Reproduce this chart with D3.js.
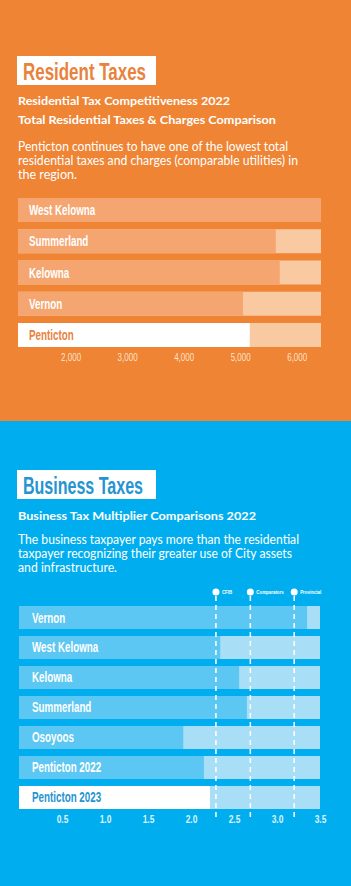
<!DOCTYPE html>
<html>
<head>
<meta charset="utf-8">
<script src="https://cdn.jsdelivr.net/npm/d3@7"></script>
<style>
  body { margin: 0; }
  svg { display: block; }
</style>
</head>
<body>
<svg id="chart" width="351" height="886"></svg>
<script>
// ---- data ----
const resCities = ["West Kelowna", "Summerland", "Kelowna", "Vernon", "Penticton"];
const resTotals = [6430, 5630, 5700, 5050, 5170];
const resTicks = [2000, 3000, 4000, 5000, 6000];

const bizCities = ["Vernon", "West Kelowna", "Kelowna", "Summerland", "Osoyoos", "Penticton 2022", "Penticton 2023"];
const bizMultipliers = [3.35, 2.34, 2.56, 2.65, 1.91, 2.15, 2.22];
const bizTicks = [0.5, 1.0, 1.5, 2.0, 2.5, 3.0, 3.5];

const refNames = ["CFIB", "Comparators", "Provincial"];
const refValues = [2.29, 2.69, 3.2];

// colours
const orange = "#ee8434", orangeBar = "#f5a570", orangeLight = "#f9c9a2", orangeText = "#e8823c";
const blue = "#00aeef", blueBar = "#5cc7f2", blueLight = "#a8dff7", blueText = "#2594d2";

const svg = d3.select("#chart");
const sans = "Lato, 'Open Sans', sans-serif";
const narrow = "'Liberation Sans', Arial, sans-serif";

// squeeze text horizontally (condensed look)
function squeeze(sel, k) {
  sel.each(function () {
    const w = this.getComputedTextLength();
    d3.select(this).attr("textLength", w * k).attr("lengthAdjust", "spacingAndGlyphs");
  });
}
function fitWidth(sel, w) {
  sel.attr("textLength", w).attr("lengthAdjust", "spacingAndGlyphs");
}

// backgrounds
svg.append("rect").attr("x", 0).attr("y", 0).attr("width", 351).attr("height", 421).attr("fill", orange);
svg.append("rect").attr("x", 0).attr("y", 421).attr("width", 351).attr("height", 465).attr("fill", blue);

// headers
function header(y0, title, titleW, color, subs, paras) {
  svg.append("rect").attr("x", 17).attr("y", y0).attr("width", 139).attr("height", 29).attr("fill", "#fff");
  svg.append("text").attr("x", 23).attr("y", y0 + 24).text(title)
    .attr("font-family", narrow).attr("font-weight", "bold").attr("font-size", 24)
    .attr("fill", color).call(fitWidth, titleW);
  subs.forEach(function (s) {
    svg.append("text").attr("x", 18).attr("y", s.y).text(s.t)
      .attr("font-family", sans).attr("font-weight", "bold").attr("font-size", 11.5)
      .attr("fill", "#fff").call(fitWidth, s.w);
  });
  paras.forEach(function (s) {
    svg.append("text").attr("x", 18).attr("y", s.y).text(s.t)
      .attr("font-family", sans).attr("font-size", 12.5)
      .attr("fill", "#fff").call(fitWidth, s.w);
  });
}

header(56, "Resident Taxes", 123, orangeText,
  [{ t: "Residential Tax Competitiveness 2022", y: 105, w: 212 },
   { t: "Total Residential Taxes & Charges Comparison", y: 124, w: 258 }],
  [{ t: "Penticton continues to have one of the lowest total", y: 151, w: 270 },
   { t: "residential taxes and charges (comparable utilities) in", y: 165, w: 280 },
   { t: "the region.", y: 179, w: 59 }]);

header(470, "Business Taxes", 120, blueText,
  [{ t: "Business Tax Multiplier Comparisons 2022", y: 520, w: 238 }],
  [{ t: "The business taxpayer pays more than the residential", y: 544, w: 281 },
   { t: "taxpayer recognizing their greater use of City assets", y: 558, w: 274 },
   { t: "and infrastructure.", y: 572, w: 99 }]);

// ---- Resident chart ----
const xr = d3.scaleLinear().domain([1070, d3.max(resTotals)]).range([18, 321]);
const yr = d3.scaleBand().domain(resCities).range([198, 347]).paddingInner(0.232);

const rg = svg.append("g");
rg.selectAll(".bg").data(resCities).join("rect")
  .attr("x", xr.range()[0]).attr("y", d => yr(d))
  .attr("width", xr.range()[1] - xr.range()[0]).attr("height", yr.bandwidth())
  .attr("fill", orangeLight);
rg.selectAll(".val").data(resCities).join("rect")
  .attr("x", xr.range()[0]).attr("y", d => yr(d))
  .attr("width", (d, i) => xr(resTotals[i]) - xr.range()[0]).attr("height", yr.bandwidth())
  .attr("fill", (d, i) => i === resCities.length - 1 ? "#fff" : orangeBar);
rg.selectAll(".lbl").data(resCities).join("text")
  .attr("x", 29).attr("y", d => yr(d) + 17).text(d => d)
  .attr("font-family", narrow).attr("font-weight", "bold").attr("font-size", 14)
  .attr("fill", (d, i) => i === resCities.length - 1 ? orangeText : "#fff")
  .call(squeeze, 0.7);

const rAxis = svg.append("g").attr("transform", "translate(0,351)")
  .call(d3.axisBottom(xr).tickValues(resTicks).tickFormat(d3.format(",")).tickSize(0));
rAxis.select(".domain").remove();
rAxis.selectAll("text").attr("font-family", narrow).attr("font-size", 10)
  .attr("fill", "#fde3cc").call(squeeze, 0.8);

// ---- Business chart ----
const xb = d3.scaleLinear().domain([0, 3.5]).range([19, 320]);
const yb = d3.scaleBand().domain(bizCities).range([606, 809]).paddingInner(0.233);

const bg = svg.append("g");
bg.selectAll(".bg").data(bizCities).join("rect")
  .attr("x", xb(0)).attr("y", d => yb(d))
  .attr("width", xb(3.5) - xb(0)).attr("height", yb.bandwidth())
  .attr("fill", blueLight);
bg.selectAll(".val").data(bizCities).join("rect")
  .attr("x", xb(0)).attr("y", d => yb(d))
  .attr("width", (d, i) => xb(bizMultipliers[i]) - xb(0)).attr("height", yb.bandwidth())
  .attr("fill", (d, i) => i === bizCities.length - 1 ? "#fff" : blueBar);
bg.selectAll(".lbl").data(bizCities).join("text")
  .attr("x", 32).attr("y", d => yb(d) + 16.5).text(d => d)
  .attr("font-family", narrow).attr("font-weight", "bold").attr("font-size", 14)
  .attr("fill", (d, i) => i === bizCities.length - 1 ? blueText : "#fff")
  .call(squeeze, 0.7);

// reference lines
const ref = svg.append("g");
ref.selectAll("line").data(refValues).join("line")
  .attr("x1", d => xb(d)).attr("x2", d => xb(d))
  .attr("y1", 596).attr("y2", 818)
  .attr("stroke", "#fff").attr("stroke-width", 1.5).attr("stroke-dasharray", "5,4");
ref.selectAll("circle").data(refValues).join("circle")
  .attr("cx", d => xb(d)).attr("cy", 592).attr("r", 3.5).attr("fill", "#fff");
ref.selectAll("text").data(refNames).join("text")
  .attr("x", (d, i) => xb(refValues[i]) + 6).attr("y", 594).text(d => d)
  .attr("font-family", narrow).attr("font-weight", "bold").attr("font-size", 5.5)
  .attr("fill", "#fff").call(squeeze, 0.8);

const bAxis = svg.append("g").attr("transform", "translate(0,813)")
  .call(d3.axisBottom(xb).tickValues(bizTicks).tickFormat(d3.format(".1f")).tickSize(0));
bAxis.select(".domain").remove();
bAxis.selectAll("text").attr("font-family", narrow).attr("font-weight", "bold").attr("font-size", 10.5)
  .attr("fill", "#dff3fc").call(squeeze, 0.8);
</script>
</body>
</html>
